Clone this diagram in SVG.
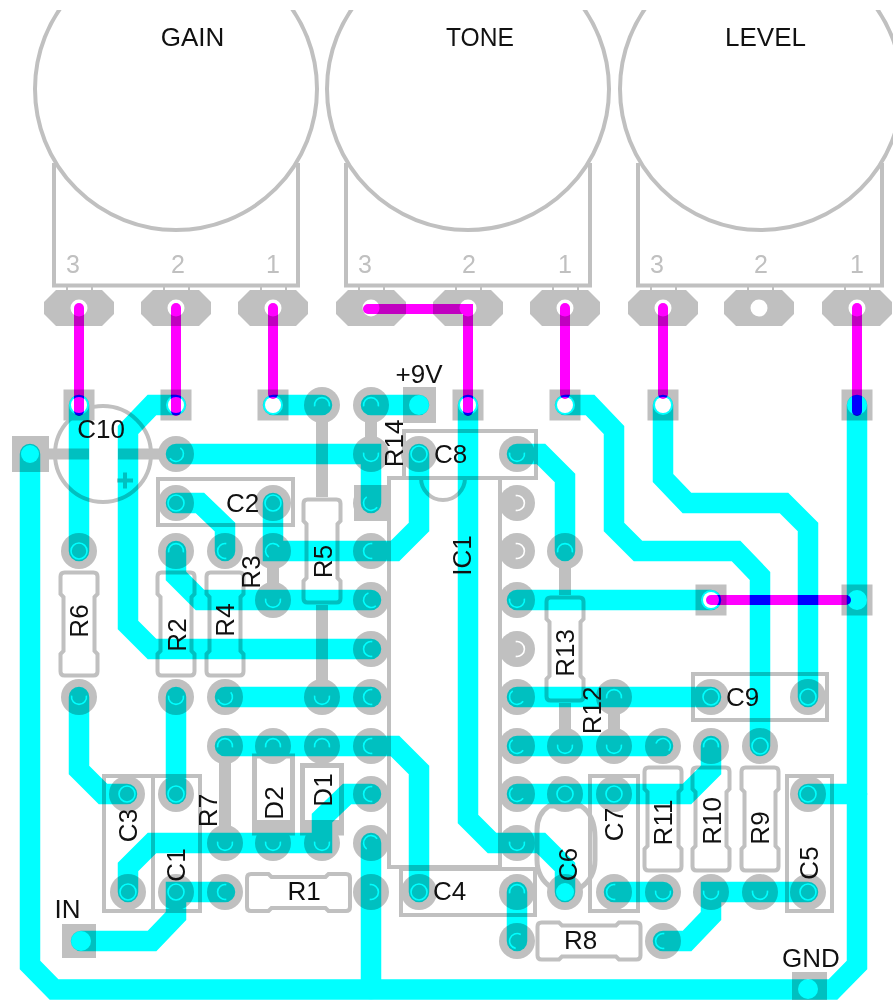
<svg xmlns="http://www.w3.org/2000/svg" width="893" height="1000" viewBox="0 0 893 1000">
<style>
text{font-family:"Liberation Sans",Arial,sans-serif;font-size:26px;fill:#111}
.num{fill:#c0c0c0;font-size:25px}
.s{fill:none;stroke:#c0c0c0;stroke-width:4}
.lead{fill:none;stroke:#c0c0c0;stroke-width:12}
.pad{fill:#c0c0c0}
.w{fill:#fff}
.a{fill:none;stroke:#fff;stroke-width:1.6}
.tracks{mix-blend-mode:multiply;fill:none;stroke:#00ffff;stroke-width:20.5;stroke-linecap:round;stroke-linejoin:miter}
.wires{mix-blend-mode:multiply;fill:none;stroke:#ff00ff;stroke-width:10;stroke-linecap:round;stroke-linejoin:miter}
</style>
<defs>
<path id="res" class="s" d="M-47.5 -18.5H-30L-27 -15.5H27L30 -18.5H47.5Q51.5 -18.5 51.5 -14.5V14.5Q51.5 18.5 47.5 18.5H30L27 15.5H-27L-30 18.5H-47.5Q-51.5 18.5 -51.5 14.5V-14.5Q-51.5 -18.5 -47.5 -18.5Z"/>
<path id="ppad" class="pad" d="M-23 -18H23L35 -6V6L23 18H-23L-35 6V-6Z"/>
<circle id="rp" class="pad" r="18"/>
<rect id="sq" class="pad" x="-15.5" y="-15.5" width="31" height="31"/>
<path id="arc" class="a" d="M-1.3 -7.4A7.5 7.5 0 1 1 -1.3 7.4"/>
<circle id="ring" class="a" r="8"/>
<clipPath id="top"><rect x="0" y="10" width="893" height="990"/></clipPath>
</defs>
<rect width="893" height="1000" fill="#fff"/>

<g id="pots">
<g clip-path="url(#top)">
<circle class="s" cx="176" cy="89" r="141"/>
<circle class="s" cx="468" cy="89" r="141"/>
<circle class="s" cx="761" cy="89" r="141"/>
</g>
<g class="s">
<path d="M54 163V285.500H298V163"/>
<path d="M346 163V285.500H590V163"/>
<path d="M638 163V285.500H882V163"/>
</g>
<path class="s" style="stroke-width:2" d="M67 287V291M92 287V291M164 287V291M189 287V291M261 287V291M286 287V291M359 287V291M384 287V291M456 287V291M481 287V291M553 287V291M578 287V291M651 287V291M676 287V291M748 287V291M773 287V291M845 287V291M870 287V291"/>
<text class="num" x="73" y="273" text-anchor="middle">3</text>
<text class="num" x="178" y="273" text-anchor="middle">2</text>
<text class="num" x="273" y="273" text-anchor="middle">1</text>
<text class="num" x="365" y="273" text-anchor="middle">3</text>
<text class="num" x="469" y="273" text-anchor="middle">2</text>
<text class="num" x="565" y="273" text-anchor="middle">1</text>
<text class="num" x="657" y="273" text-anchor="middle">3</text>
<text class="num" x="761" y="273" text-anchor="middle">2</text>
<text class="num" x="857" y="273" text-anchor="middle">1</text>
</g>

<g id="leads">
<path class="lead" d="M322 405V497M322 605V697M565 551V595M565 703V746M273 551V600M225 746V843M371 405V454M614 697V746"/>
<path class="lead" style="stroke-width:11" d="M30 454H89M118 454H176"/>
</g>

<g id="bodies">
<use id="R1-body" href="#res" transform="translate(298.500 892.500)"/>
<use id="R8-body" href="#res" transform="translate(589 941)"/>
<use id="R6-body" href="#res" transform="translate(79 624) rotate(90)"/>
<use id="R2-body" href="#res" transform="translate(176 624) rotate(90)"/>
<use id="R4-body" href="#res" transform="translate(225 624) rotate(90)"/>
<use id="R5-body" href="#res" transform="translate(322 551) rotate(90)"/>
<use id="R13-body" href="#res" transform="translate(565 649) rotate(90)"/>
<use id="R11-body" href="#res" transform="translate(663 819) rotate(90)"/>
<use id="R10-body" href="#res" transform="translate(711 819) rotate(90)"/>
<use id="R9-body" href="#res" transform="translate(760 819) rotate(90)"/>
<rect id="C1-body" class="s" x="153" y="776" width="47" height="135"/>
<rect id="C3-body" class="s" x="104" y="776" width="49" height="135"/>
<rect id="C2-body" class="s" x="158" y="479" width="135" height="46"/>
<rect id="C8-body" class="s" x="404" y="431" width="132" height="47"/>
<rect id="C4-body" class="s" x="401" y="869" width="134" height="46"/>
<rect id="C5-body" class="s" x="787" y="776" width="45" height="135"/>
<rect id="C7-body" class="s" x="590" y="776" width="48" height="135"/>
<rect id="C9-body" class="s" x="693" y="674" width="134" height="46"/>
<path id="C6-body" class="s" style="stroke-width:5" d="M549 806H581Q595 815 595 838V860Q595 878 580 888H552Q537 878 537 860V830Q537 814 549 806Z"/>
<circle id="C10-body" class="s" cx="103" cy="454" r="48"/>
<path id="C10-plus" class="s" d="M117 480.500H133M125 472.500V488.500"/>
<g id="D2-body"><rect class="s" style="stroke-width:5" x="254.500" y="756" width="38" height="77"/><path class="s" d="M254.500 826.500H292.500" style="stroke-width:13"/></g>
<g id="D1-body"><rect class="s" style="stroke-width:5" x="302.500" y="765.500" width="39" height="67.500"/><path class="s" d="M302.500 826.500H341.500" style="stroke-width:13"/></g>
<path id="IC1-body" class="s" d="M389 478H500V867H389Z"/>
<path id="IC1-notch" class="s" d="M421 478A22 22 0 0 0 465 478"/>
</g>

<g id="pads">
<use href="#ppad" x="79" y="308"/><use href="#ppad" x="176" y="308"/><use href="#ppad" x="273" y="308"/>
<use href="#ppad" x="371" y="308"/><use href="#ppad" x="468" y="308"/><use href="#ppad" x="565" y="308"/>
<use href="#ppad" x="663" y="308"/><use href="#ppad" x="759" y="308"/><use href="#ppad" x="857" y="308"/>
<g class="w">
<circle cx="79" cy="308" r="8.500"/><circle cx="176" cy="308" r="8.500"/><circle cx="273" cy="308" r="8.500"/>
<circle cx="371" cy="308" r="8.500"/><circle cx="468" cy="308" r="8.500"/><circle cx="565" cy="308" r="8.500"/>
<circle cx="663" cy="308" r="8.500"/><circle cx="759" cy="308" r="8.500"/><circle cx="857" cy="308" r="8.500"/>
</g>
<use href="#sq" x="79" y="405"/><use href="#sq" x="176" y="405"/><use href="#sq" x="273" y="405"/>
<use href="#sq" x="468" y="405"/><use href="#sq" x="565" y="405"/><use href="#sq" x="663" y="405"/><use href="#sq" x="857" y="405"/>
<use href="#sq" x="711" y="600"/><use href="#sq" x="857" y="600"/>
<rect class="pad" x="403" y="387" width="33" height="36"/>
<rect class="pad" x="354" y="485" width="33" height="36"/>
<rect class="pad" x="12" y="436" width="37" height="36"/>
<rect class="pad" x="62" y="924" width="34" height="34"/>
<rect class="pad" x="792" y="972" width="35" height="28"/>

<use href="#rp" x="322" y="405"/><use href="#rp" x="371" y="405"/>
<use href="#rp" x="176" y="454"/><use href="#rp" x="371" y="454"/><use href="#rp" x="419" y="454"/><use href="#rp" x="517" y="454"/>
<use href="#rp" x="176" y="503"/><use href="#rp" x="273" y="503"/><use href="#rp" x="371" y="503"/><use href="#rp" x="517" y="503"/>
<use href="#rp" x="79" y="551"/><use href="#rp" x="176" y="551"/><use href="#rp" x="225" y="551"/><use href="#rp" x="273" y="551"/><use href="#rp" x="371" y="551"/><use href="#rp" x="517" y="551"/><use href="#rp" x="565" y="551"/>
<use href="#rp" x="273" y="600"/><use href="#rp" x="371" y="600"/><use href="#rp" x="517" y="600"/>
<use href="#rp" x="371" y="649"/><use href="#rp" x="517" y="649"/>
<use href="#rp" x="79" y="697"/><use href="#rp" x="176" y="697"/><use href="#rp" x="225" y="697"/><use href="#rp" x="322" y="697"/><use href="#rp" x="371" y="697"/><use href="#rp" x="517" y="697"/><use href="#rp" x="614" y="697"/><use href="#rp" x="711" y="697"/><use href="#rp" x="808" y="697"/>
<use href="#rp" x="225" y="746"/><use href="#rp" x="273" y="746"/><use href="#rp" x="322" y="746"/><use href="#rp" x="371" y="746"/><use href="#rp" x="517" y="746"/><use href="#rp" x="565" y="746"/><use href="#rp" x="614" y="746"/><use href="#rp" x="663" y="746"/><use href="#rp" x="711" y="746"/><use href="#rp" x="760" y="746"/>
<use href="#rp" x="127" y="794"/><use href="#rp" x="176" y="794"/><use href="#rp" x="371" y="794"/><use href="#rp" x="517" y="794"/><use href="#rp" x="565" y="794"/><use href="#rp" x="614" y="794"/><use href="#rp" x="808" y="794"/>
<use href="#rp" x="225" y="843"/><use href="#rp" x="273" y="843"/><use href="#rp" x="322" y="843"/><use href="#rp" x="371" y="843"/><use href="#rp" x="517" y="843"/>
<use href="#rp" x="128" y="892"/><use href="#rp" x="176" y="892"/><use href="#rp" x="225" y="892"/><use href="#rp" x="371" y="892"/><use href="#rp" x="419" y="892"/><use href="#rp" x="517" y="892"/><use href="#rp" x="565" y="892"/><use href="#rp" x="614" y="892"/><use href="#rp" x="663" y="892"/><use href="#rp" x="711" y="892"/><use href="#rp" x="760" y="892"/><use href="#rp" x="808" y="892"/>
<use href="#rp" x="517" y="941"/><use href="#rp" x="663" y="941"/>

<g class="w">
<circle cx="79" cy="405" r="10"/><circle cx="176" cy="405" r="10"/><circle cx="273" cy="405" r="10"/><circle cx="468" cy="405" r="10"/><circle cx="565" cy="405" r="10"/><circle cx="663" cy="405" r="10"/><circle cx="857" cy="405" r="10"/>
<circle cx="711" cy="600" r="10"/><circle cx="857" cy="600" r="10"/><circle cx="419" cy="405" r="10"/><circle cx="30" cy="454" r="9"/><circle cx="81" cy="941" r="10"/><circle cx="808" cy="989" r="10"/><circle cx="565" cy="892" r="9"/>
</g>

<use href="#arc" transform="translate(322 405) rotate(270)"/><use href="#arc" transform="translate(371 405) rotate(270)"/>
<use href="#arc" transform="translate(176 454) rotate(45)"/><use href="#arc" transform="translate(371 454) rotate(90)"/><use href="#ring" x="419" y="454"/><use href="#arc" transform="translate(517 454) rotate(90)"/>
<use href="#ring" x="176" y="503"/><use href="#ring" x="273" y="503"/><use href="#arc" transform="translate(371 503) rotate(135)"/><use href="#arc" transform="translate(517 503)"/>
<use href="#ring" x="79" y="551"/><use href="#arc" transform="translate(176 551) rotate(270)"/><use href="#arc" transform="translate(225 551) rotate(180)"/><use href="#arc" transform="translate(273 551) rotate(225)"/><use href="#arc" transform="translate(371 551) rotate(180)"/><use href="#arc" transform="translate(517 551)"/><use href="#arc" transform="translate(565 551) rotate(270)"/>
<use href="#arc" transform="translate(273 600) rotate(90)"/><use href="#arc" transform="translate(371 600) rotate(150)"/><use href="#arc" transform="translate(517 600) rotate(90)"/>
<use href="#arc" transform="translate(371 649) rotate(180)"/><use href="#arc" transform="translate(517 649)"/>
<use href="#arc" transform="translate(79 697) rotate(90)"/><use href="#arc" transform="translate(176 697) rotate(90)"/><use href="#arc" transform="translate(225 697) rotate(60)"/><use href="#arc" transform="translate(322 697) rotate(90)"/><use href="#arc" transform="translate(371 697) rotate(180)"/><use href="#arc" transform="translate(517 697) rotate(135)"/><use href="#arc" transform="translate(614 697) rotate(270)"/><use href="#ring" x="711" y="697"/><use href="#ring" x="808" y="697"/>
<use href="#arc" transform="translate(225 746) rotate(270)"/><use href="#arc" transform="translate(273 746) rotate(270)"/><use href="#arc" transform="translate(322 746) rotate(270)"/><use href="#arc" transform="translate(371 746) rotate(180)"/><use href="#arc" transform="translate(517 746) rotate(135)"/><use href="#arc" transform="translate(565 746) rotate(90)"/><use href="#arc" transform="translate(614 746) rotate(90)"/><use href="#arc" transform="translate(663 746) rotate(300)"/><use href="#arc" transform="translate(711 746) rotate(270)"/><use href="#ring" x="760" y="746"/>
<use href="#ring" x="127" y="794"/><use href="#ring" x="176" y="794"/><use href="#arc" transform="translate(371 794) rotate(180)"/><use href="#arc" transform="translate(517 794) rotate(135)"/><use href="#ring" x="565" y="794"/><use href="#ring" x="614" y="794"/><use href="#ring" x="808" y="794"/>
<use href="#arc" transform="translate(225 843) rotate(90)"/><use href="#arc" transform="translate(273 843) rotate(90)"/><use href="#arc" transform="translate(322 843) rotate(90)"/><use href="#arc" transform="translate(371 843) rotate(225)"/><use href="#arc" transform="translate(517 843) rotate(90)"/>
<use href="#ring" x="128" y="892"/><use href="#ring" x="176" y="892"/><use href="#arc" transform="translate(225 892) rotate(180)"/><use href="#arc" transform="translate(371 892)"/><use href="#ring" x="419" y="892"/><use href="#arc" transform="translate(517 892) rotate(270)"/><use href="#arc" transform="translate(614 892) rotate(180)"/><use href="#arc" transform="translate(663 892) rotate(90)"/><use href="#arc" transform="translate(711 892) rotate(90)"/><use href="#arc" transform="translate(760 892) rotate(90)"/><use href="#ring" x="808" y="892"/>
<use href="#arc" transform="translate(517 941) rotate(200)"/><use href="#arc" transform="translate(663 941) rotate(180)"/>
</g>

<g id="connectors">
<g id="tracks" class="tracks">
<path d="M79 405V551M79 697V770L103 794H127"/>
<path d="M176 405H152L128 430V625L152 649H371"/>
<path d="M273 405H322M371 405H419"/>
<path d="M176 454H371V503"/>
<path d="M30 454V965L54 989.500H833L857 965V405"/>
<path d="M371 843V989"/>
<path d="M176 503H200L225 527V551"/>
<path d="M273 503V551H395L419 527V454"/>
<path d="M176 551V576L200 600H371"/>
<path d="M225 697H371"/>
<path d="M225 746H395L419 770V892"/>
<path d="M371 794H347L322 818V843H152L128 867V892"/>
<path d="M176 697V794"/>
<path d="M225 892H176V916L152 941H81"/>
<path d="M468 405V819L492 843H541L565 867V892"/>
<path d="M517 454H541L565 478V551"/>
<path d="M565 405H590L614 430V527L638 551H736L760 576V746"/>
<path d="M663 405V478L687 503H784L808 527V697"/>
<path d="M517 600H711"/>
<path d="M517 697H711"/>
<path d="M517 746H663"/>
<path d="M517 794H687L711 770V746"/>
<path d="M517 892V941"/>
<path d="M614 892H663"/>
<path d="M663 941H687L711 916V892H808"/>
<path d="M808 794H857"/>
</g>
<g id="holes" class="w">
<circle cx="79" cy="405" r="8"/><circle cx="176" cy="405" r="8"/><circle cx="273" cy="405" r="8"/><circle cx="468" cy="405" r="8"/><circle cx="565" cy="405" r="8"/><circle cx="663" cy="405" r="8"/><circle cx="711" cy="600" r="8"/>
</g>
<g id="wires" class="wires">
<path d="M79 308V411"/>
<path d="M176 308V411"/>
<path d="M273 308V394"/>
<path d="M368 309H468V411"/>
<path d="M565 308V394"/>
<path d="M663 308V394"/>
<path d="M857 308V411"/>
<path d="M711 600H846"/>
</g>
</g>

<g id="labels">
<text x="192.500" y="46" text-anchor="middle">GAIN</text>
<text x="480" y="46" text-anchor="middle" textLength="68" lengthAdjust="spacingAndGlyphs">TONE</text>
<text x="765.500" y="46" text-anchor="middle">LEVEL</text>
<text x="101" y="438" text-anchor="middle">C10</text>
<text x="419" y="383" text-anchor="middle">+9V</text>
<text x="242.500" y="512" text-anchor="middle">C2</text>
<text x="450.500" y="463" text-anchor="middle">C8</text>
<text x="67.500" y="918" text-anchor="middle">IN</text>
<text x="811" y="967" text-anchor="middle">GND</text>
<text x="304" y="900" text-anchor="middle">R1</text>
<text x="580.500" y="949" text-anchor="middle">R8</text>
<text x="449.500" y="900" text-anchor="middle">C4</text>
<text x="742.500" y="706" text-anchor="middle">C9</text>
<g text-anchor="middle">
<text transform="translate(88 621) rotate(-90)">R6</text>
<text transform="translate(186 635) rotate(-90)">R2</text>
<text transform="translate(234 620) rotate(-90)">R4</text>
<text transform="translate(260 572) rotate(-90)">R3</text>
<text transform="translate(332 561.500) rotate(-90)">R5</text>
<text transform="translate(403 443.500) rotate(-90)">R14</text>
<text transform="translate(471 555.500) rotate(-90)">IC1</text>
<text transform="translate(574 653) rotate(-90)">R13</text>
<text transform="translate(601 710.500) rotate(-90)">R12</text>
<text transform="translate(623 824.500) rotate(-90)">C7</text>
<text transform="translate(672 822.500) rotate(-90)">R11</text>
<text transform="translate(721 821) rotate(-90)">R10</text>
<text transform="translate(769 828) rotate(-90)">R9</text>
<text transform="translate(818 863) rotate(-90)">C5</text>
<text transform="translate(577 864.500) rotate(-90)">C6</text>
<text transform="translate(217 810.500) rotate(-90)">R7</text>
<text transform="translate(283 803) rotate(-90)">D2</text>
<text transform="translate(332 790) rotate(-90)">D1</text>
<text transform="translate(137 825.500) rotate(-90)">C3</text>
<text transform="translate(185 865) rotate(-90)">C1</text>
</g>
</g>
</svg>
